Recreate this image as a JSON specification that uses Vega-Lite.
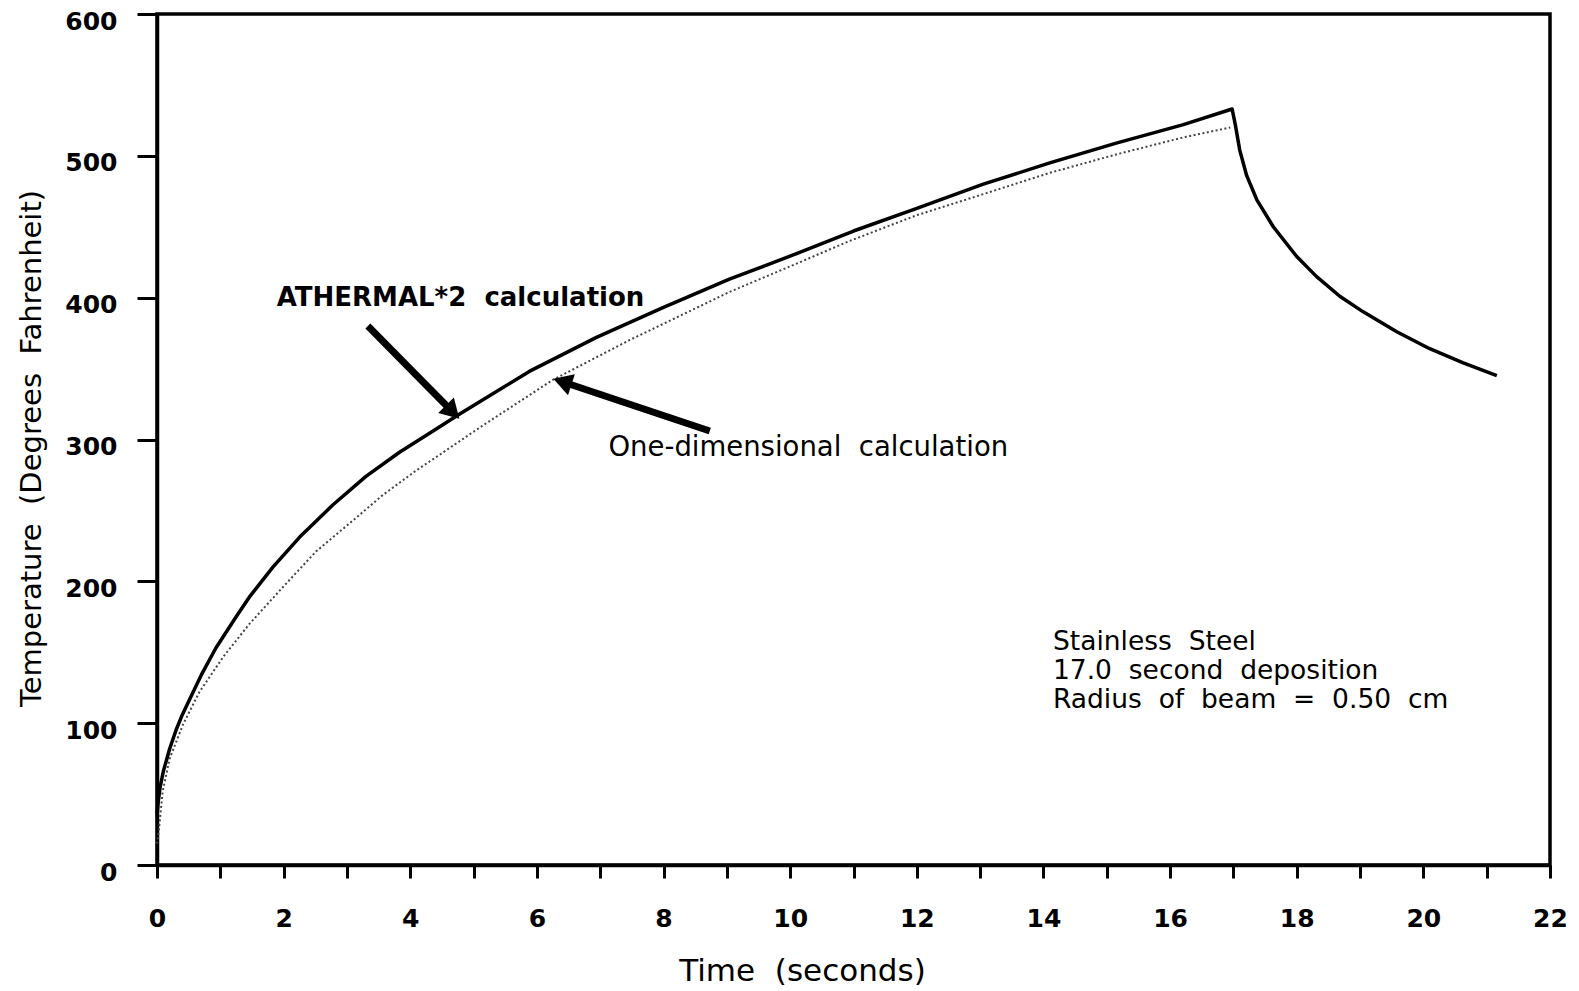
{
  "$schema": "https://vega.github.io/schema/vega-lite/v6.json",
  "autosize": {"type": "none"},
  "padding": {"left": 157, "top": 14, "right": 29, "bottom": 126},
  "width": 1393,
  "height": 851,
  "background": "white",
  "config": {
    "view": {"stroke": "#000", "strokeWidth": 3.5},
    "font": "DejaVu Sans",
    "axis": {
      "grid": false,
      "domainColor": "#000",
      "domainWidth": 3.5,
      "tickColor": "#000",
      "tickWidth": 3,
      "labelColor": "#000",
      "labelFont": "DejaVu Sans",
      "labelFontWeight": "bold",
      "labelFontSize": 25,
      "titleColor": "#000",
      "titleFont": "DejaVu Sans",
      "titleFontWeight": "normal",
      "titleFontSize": 29
    }
  },
  "datasets": {
    "athermal": [
      {"t": 0, "temp": 35}, {"t": 0.02, "temp": 45}, {"t": 0.05, "temp": 55}, {"t": 0.1, "temp": 66},
      {"t": 0.2, "temp": 82}, {"t": 0.3, "temp": 95}, {"t": 0.4, "temp": 106}, {"t": 0.55, "temp": 120},
      {"t": 0.7, "temp": 134}, {"t": 0.93, "temp": 153}, {"t": 1.25, "temp": 175}, {"t": 1.46, "temp": 189},
      {"t": 1.83, "temp": 210}, {"t": 2.25, "temp": 231}, {"t": 2.78, "temp": 254}, {"t": 3.3, "temp": 274},
      {"t": 3.83, "temp": 291}, {"t": 4.36, "temp": 306}, {"t": 4.78, "temp": 318}, {"t": 5.88, "temp": 348},
      {"t": 6.94, "temp": 372}, {"t": 7.99, "temp": 393}, {"t": 9.04, "temp": 413}, {"t": 10.1, "temp": 431},
      {"t": 11.0, "temp": 447}, {"t": 12.0, "temp": 463}, {"t": 13.05, "temp": 480}, {"t": 14.1, "temp": 495},
      {"t": 15.15, "temp": 509}, {"t": 16.21, "temp": 522}, {"t": 16.98, "temp": 533}, {"t": 17.03, "temp": 522},
      {"t": 17.1, "temp": 504}, {"t": 17.21, "temp": 486}, {"t": 17.37, "temp": 469}, {"t": 17.63, "temp": 450},
      {"t": 18.0, "temp": 429}, {"t": 18.31, "temp": 415}, {"t": 18.68, "temp": 401}, {"t": 19.05, "temp": 390},
      {"t": 19.58, "temp": 376}, {"t": 20.1, "temp": 364}, {"t": 20.63, "temp": 354}, {"t": 21.16, "temp": 345}
    ],
    "onedim": [
      {"t": 0, "temp": 15}, {"t": 0.03, "temp": 25}, {"t": 0.09, "temp": 52}, {"t": 0.2, "temp": 75},
      {"t": 0.41, "temp": 99}, {"t": 0.67, "temp": 122}, {"t": 1.05, "temp": 147}, {"t": 1.46, "temp": 170},
      {"t": 1.99, "temp": 196}, {"t": 2.51, "temp": 221}, {"t": 3.15, "temp": 245}, {"t": 3.57, "temp": 261},
      {"t": 4.09, "temp": 278}, {"t": 4.62, "temp": 294}, {"t": 5.15, "temp": 310}, {"t": 6.25, "temp": 342},
      {"t": 7.46, "temp": 370}, {"t": 9.04, "temp": 404}, {"t": 10.1, "temp": 424}, {"t": 10.94, "temp": 440},
      {"t": 11.99, "temp": 458}, {"t": 13.05, "temp": 473}, {"t": 14.1, "temp": 488}, {"t": 15.15, "temp": 501},
      {"t": 16.21, "temp": 513}, {"t": 16.95, "temp": 520}
    ],
    "arrows": [
      {"t": 3.33, "temp": 380, "t2": 4.635, "temp2": 321},
      {"t": 8.73, "temp": 306, "t2": 6.45, "temp2": 340}
    ],
    "heads": [
      {"t": 4.635, "temp": 321, "angle": 135.5},
      {"t": 6.45, "temp": 340, "angle": 288.2}
    ],
    "boldlabels": [
      {"t": 1.89, "temp": 400, "text": "ATHERMAL*2\u00a0 calculation"}
    ],
    "labels": [
      {"t": 7.13, "temp": 294, "text": "One-dimensional\u00a0 calculation"}
    ],
    "notes": [
      {"t": 14.15, "temp": 157, "text": "Stainless\u00a0 Steel"},
      {"t": 14.15, "temp": 137, "text": "17.0\u00a0 second\u00a0 deposition"},
      {"t": 14.15, "temp": 116, "text": "Radius\u00a0 of\u00a0 beam\u00a0 =\u00a0 0.50\u00a0 cm"}
    ]
  },
  "layer": [
    {
      "data": {"name": "onedim"},
      "mark": {"type": "line", "color": "#444", "strokeWidth": 2, "strokeDash": [2, 2.5]},
      "encoding": {
        "x": {
          "field": "t", "type": "quantitative",
          "scale": {"domain": [0, 22], "nice": false, "zero": false},
          "axis": {
            "values": [0,1,2,3,4,5,6,7,8,9,10,11,12,13,14,15,16,17,18,19,20,21,22],
            "format": "d",
            "labelExpr": "datum.value % 2 === 0 ? datum.label : ''",
            "tickSize": 13,
            "labelPadding": 28,
            "labelFlush": false,
            "labelOverlap": false,
            "title": "Time\u00a0 (seconds)",
            "titleFontSize": 31,
            "titleX": 645,
            "titleY": 115,
            "titleAlign": "center",
            "titleBaseline": "alphabetic"
          }
        },
        "y": {
          "field": "temp", "type": "quantitative",
          "scale": {"domain": [0, 600], "nice": false},
          "axis": {
            "values": [0, 100, 200, 300, 400, 500, 600],
            "format": "d",
            "tickSize": 20,
            "labelPadding": 20,
            "labelOffset": 7,
            "labelFlush": false,
            "labelOverlap": false,
            "title": "Temperature\u00a0 (Degrees\u00a0 Fahrenheit)",
            "titleX": -126,
            "titleY": 434,
            "titleAngle": -90,
            "titleAlign": "center",
            "titleBaseline": "middle"
          }
        }
      }
    },
    {
      "data": {"name": "athermal"},
      "mark": {"type": "line", "color": "#000", "strokeWidth": 3.5, "strokeJoin": "round"},
      "encoding": {
        "x": {"field": "t", "type": "quantitative"},
        "y": {"field": "temp", "type": "quantitative"}
      }
    },
    {
      "data": {"name": "arrows"},
      "mark": {"type": "rule", "color": "#000", "strokeWidth": 7, "strokeCap": "butt"},
      "encoding": {
        "x": {"field": "t", "type": "quantitative"},
        "y": {"field": "temp", "type": "quantitative"},
        "x2": {"field": "t2"},
        "y2": {"field": "temp2"}
      }
    },
    {
      "data": {"name": "heads"},
      "mark": {"type": "point", "shape": "triangle", "filled": true, "color": "#000", "opacity": 1, "size": 480},
      "encoding": {
        "x": {"field": "t", "type": "quantitative"},
        "y": {"field": "temp", "type": "quantitative"},
        "angle": {"field": "angle", "type": "quantitative", "scale": null}
      }
    },
    {
      "data": {"name": "boldlabels"},
      "mark": {"type": "text", "align": "left", "baseline": "middle", "font": "DejaVu Sans", "fontSize": 26, "fontWeight": "bold", "color": "#000"},
      "encoding": {
        "x": {"field": "t", "type": "quantitative"},
        "y": {"field": "temp", "type": "quantitative"},
        "text": {"field": "text"}
      }
    },
    {
      "data": {"name": "labels"},
      "mark": {"type": "text", "align": "left", "baseline": "middle", "font": "DejaVu Sans", "fontSize": 27.5, "color": "#000"},
      "encoding": {
        "x": {"field": "t", "type": "quantitative"},
        "y": {"field": "temp", "type": "quantitative"},
        "text": {"field": "text"}
      }
    },
    {
      "data": {"name": "notes"},
      "mark": {"type": "text", "align": "left", "baseline": "middle", "font": "DejaVu Sans", "fontSize": 26.5, "color": "#000"},
      "encoding": {
        "x": {"field": "t", "type": "quantitative"},
        "y": {"field": "temp", "type": "quantitative"},
        "text": {"field": "text"}
      }
    }
  ]
}
